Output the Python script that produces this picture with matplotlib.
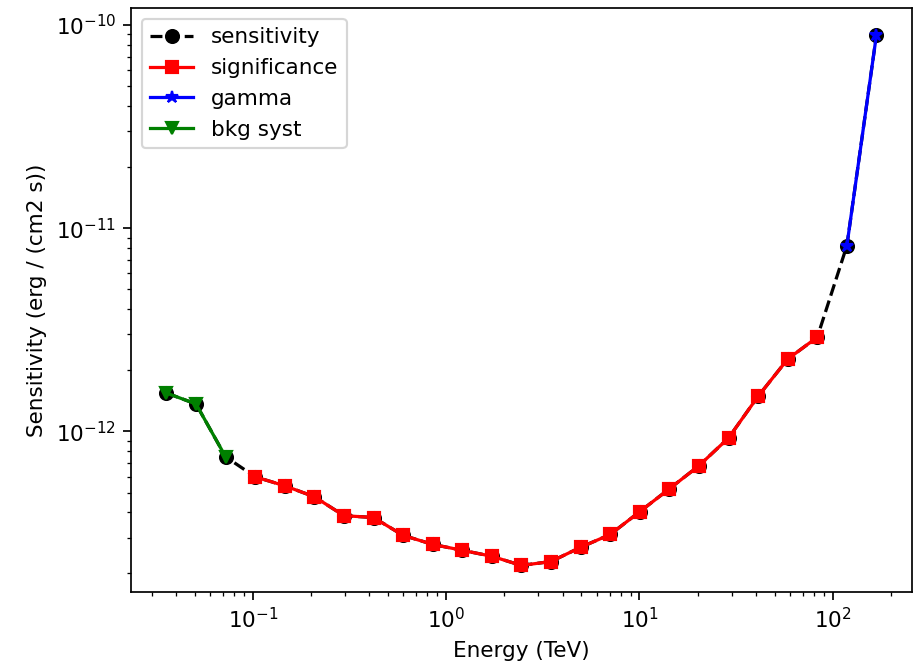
import numpy as np
import matplotlib
matplotlib.use("Agg")
import matplotlib.pyplot as plt

# bin centres (TeV) and e2dnde sensitivity (erg / (cm2 s))
energy = [0.0358, 0.0509, 0.0724, 0.1029, 0.1464, 0.2083, 0.2962, 0.4213,
          0.5993, 0.8524, 1.212, 1.724, 2.452, 3.488, 4.962, 7.057,
          10.04, 14.28, 20.31, 28.89, 41.09, 58.44, 83.13, 118.2, 168.2]
e2dnde = [1.545e-12, 1.365e-12, 7.50e-13, 5.98e-13, 5.40e-13, 4.77e-13,
          3.85e-13, 3.77e-13, 3.08e-13, 2.78e-13, 2.60e-13, 2.43e-13,
          2.19e-13, 2.29e-13, 2.69e-13, 3.11e-13, 4.03e-13, 5.22e-13,
          6.78e-13, 9.29e-13, 1.49e-12, 2.27e-12, 2.91e-12, 8.20e-12,
          8.98e-11]
criterion = ["bkg"] * 3 + ["significance"] * 20 + ["gamma"] * 2

energy = np.array(energy)
e2dnde = np.array(e2dnde)
criterion = np.array(criterion)

fig, ax = plt.subplots(figsize=(914 / 155, 661 / 155), dpi=155)
fig.subplots_adjust(left=0.1433, right=0.9978, top=0.9879, bottom=0.1044)

ax.plot(energy, e2dnde, "o--", color="black", label="sensitivity")

is_sig = criterion == "significance"
ax.plot(energy[is_sig], e2dnde[is_sig], "s-", color="red", label="significance")

is_gamma = criterion == "gamma"
ax.plot(energy[is_gamma], e2dnde[is_gamma], "*-", color="blue", label="gamma")

is_bkg = criterion == "bkg"
ax.plot(energy[is_bkg], e2dnde[is_bkg], "v-", color="green", label="bkg syst")

ax.set_xscale("log")
ax.set_yscale("log")
ax.set_xlabel("Energy (TeV)")
ax.set_ylabel("Sensitivity (erg / (cm2 s))")
ax.legend(loc="upper left")

fig.savefig("out.png", dpi=155)
